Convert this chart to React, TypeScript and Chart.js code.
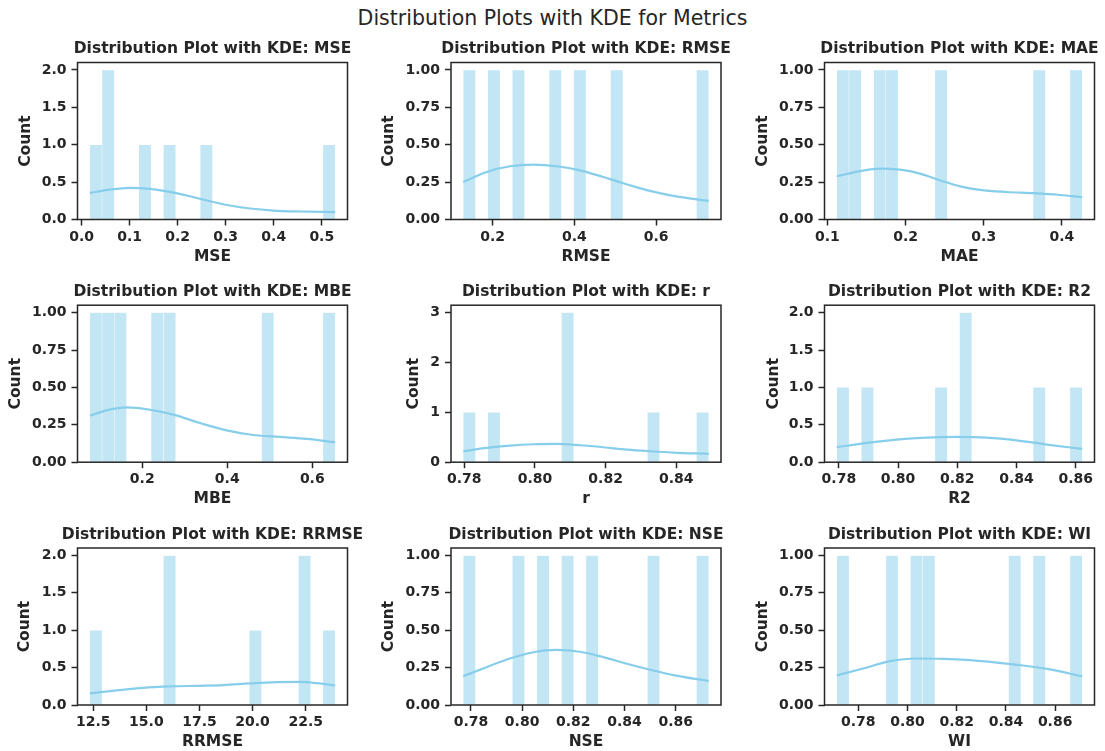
import React, { useEffect, useRef } from 'react';
import { Chart, registerables } from 'chart.js';

Chart.register(...registerables);

const FONT = "'DejaVu Sans', sans-serif";
const TEXT = '#262626';
const BAR_FILL = 'rgba(135, 206, 235, 0.5)';
const KDE_COLOR = '#87CEEB';

// ---------------- data ----------------
const MSE_RANGE = [0.017, 0.528];
const MSE_COUNTS = [1, 2, 0, 0, 1, 0, 1, 0, 0, 1, 0, 0, 0, 0, 0, 0, 0, 0, 0, 1];
const MSE_KDE_X = [0.017, 0.059, 0.1006, 0.142, 0.184, 0.2256, 0.267, 0.309, 0.3506, 0.399, 0.455, 0.528];
const MSE_KDE_Y = [0.356, 0.4, 0.422, 0.409, 0.369, 0.311, 0.244, 0.187, 0.147, 0.12, 0.107, 0.098];
const MSE_X_TICKS = ['0.0', '0.1', '0.2', '0.3', '0.4', '0.5'];
const MSE_Y_TICKS = ['0.0', '0.5', '1.0', '1.5', '2.0'];

const RMSE_RANGE = [0.128, 0.729];
const RMSE_COUNTS = [1, 0, 1, 0, 1, 0, 0, 1, 0, 1, 0, 0, 1, 0, 0, 0, 0, 0, 0, 1];
const RMSE_KDE_X = [0.128, 0.1853, 0.2424, 0.2995, 0.3567, 0.4137, 0.4708, 0.528, 0.585, 0.642, 0.729];
const RMSE_KDE_Y = [0.251, 0.318, 0.356, 0.367, 0.356, 0.329, 0.284, 0.236, 0.191, 0.158, 0.124];
const RMSE_X_TICKS = ['0.2', '0.4', '0.6'];
const RMSE_Y_TICKS = ['0.00', '0.25', '0.50', '0.75', '1.00'];

const MAE_RANGE = [0.112, 0.426];
const MAE_COUNTS = [1, 1, 0, 1, 1, 0, 0, 0, 1, 0, 0, 0, 0, 0, 0, 0, 1, 0, 0, 1];
const MAE_KDE_X = [0.112, 0.1418, 0.1674, 0.193, 0.2185, 0.2441, 0.2697, 0.2953, 0.3294, 0.3634, 0.3976, 0.426];
const MAE_KDE_Y = [0.289, 0.324, 0.34, 0.333, 0.307, 0.262, 0.222, 0.198, 0.184, 0.176, 0.164, 0.149];
const MAE_X_TICKS = ['0.1', '0.2', '0.3', '0.4'];
const MAE_Y_TICKS = ['0.00', '0.25', '0.50', '0.75', '1.00'];

const MBE_RANGE = [0.0765, 0.654];
const MBE_COUNTS = [1, 1, 1, 0, 0, 1, 1, 0, 0, 0, 0, 0, 0, 0, 1, 0, 0, 0, 0, 1];
const MBE_KDE_X = [0.0765, 0.12, 0.163, 0.218, 0.273, 0.336, 0.3986, 0.461, 0.524, 0.587, 0.654];
const MBE_KDE_Y = [0.311, 0.35, 0.367, 0.351, 0.318, 0.262, 0.213, 0.182, 0.169, 0.156, 0.133];
const MBE_X_TICKS = ['0.2', '0.4', '0.6'];
const MBE_Y_TICKS = ['0.00', '0.25', '0.50', '0.75', '1.00'];

const R_RANGE = [0.7797, 0.8492];
const R_COUNTS = [1, 0, 1, 0, 0, 0, 0, 0, 3, 0, 0, 0, 0, 0, 0, 1, 0, 0, 0, 1];
const R_KDE_X = [0.7797, 0.7863, 0.7929, 0.7995, 0.8062, 0.8128, 0.8194, 0.826, 0.8326, 0.8392, 0.8492];
const R_KDE_Y = [0.22, 0.287, 0.333, 0.36, 0.367, 0.34, 0.3, 0.253, 0.22, 0.193, 0.167];
const R_X_TICKS = ['0.78', '0.80', '0.82', '0.84'];
const R_Y_TICKS = ['0', '1', '2', '3'];

const R2_RANGE = [0.7793, 0.8622];
const R2_COUNTS = [1, 0, 1, 0, 0, 0, 0, 0, 1, 0, 2, 0, 0, 0, 0, 0, 1, 0, 0, 1];
const R2_KDE_X = [0.7793, 0.7894, 0.7995, 0.8096, 0.8198, 0.8299, 0.84, 0.8502, 0.8622];
const R2_KDE_Y = [0.2, 0.258, 0.302, 0.329, 0.338, 0.329, 0.293, 0.236, 0.178];
const R2_X_TICKS = ['0.78', '0.80', '0.82', '0.84', '0.86'];
const R2_Y_TICKS = ['0.0', '0.5', '1.0', '1.5', '2.0'];

const RRMSE_RANGE = [12.335, 23.89];
const RRMSE_COUNTS = [1, 0, 0, 0, 0, 0, 2, 0, 0, 0, 0, 0, 0, 1, 0, 0, 0, 2, 0, 1];
const RRMSE_KDE_X = [12.335, 13.6, 14.85, 16.11, 17.37, 18.62, 19.88, 21.13, 22.23, 23.02, 23.89];
const RRMSE_KDE_Y = [0.155, 0.195, 0.23, 0.248, 0.257, 0.266, 0.288, 0.305, 0.31, 0.292, 0.261];
const RRMSE_X_TICKS = ['12.5', '15.0', '17.5', '20.0', '22.5'];
const RRMSE_Y_TICKS = ['0.0', '0.5', '1.0', '1.5', '2.0'];

const NSE_RANGE = [0.777, 0.8729];
const NSE_COUNTS = [1, 0, 0, 0, 1, 0, 1, 0, 1, 0, 1, 0, 0, 0, 0, 1, 0, 0, 0, 1];
const NSE_KDE_X = [0.777, 0.7861, 0.7952, 0.8044, 0.8135, 0.8226, 0.8317, 0.8409, 0.85, 0.8591, 0.8729];
const NSE_KDE_Y = [0.193, 0.253, 0.311, 0.353, 0.369, 0.356, 0.32, 0.276, 0.236, 0.2, 0.16];
const NSE_X_TICKS = ['0.78', '0.80', '0.82', '0.84', '0.86'];
const NSE_Y_TICKS = ['0.00', '0.25', '0.50', '0.75', '1.00'];

const WI_RANGE = [0.7713, 0.871];
const WI_COUNTS = [1, 0, 0, 0, 1, 0, 1, 1, 0, 0, 0, 0, 0, 0, 1, 0, 1, 0, 0, 1];
const WI_KDE_X = [0.7713, 0.782, 0.7929, 0.8037, 0.8145, 0.8254, 0.8362, 0.847, 0.8579, 0.871];
const WI_KDE_Y = [0.198, 0.244, 0.293, 0.311, 0.309, 0.3, 0.284, 0.264, 0.238, 0.191];
const WI_X_TICKS = ['0.78', '0.80', '0.82', '0.84', '0.86'];
const WI_Y_TICKS = ['0.00', '0.25', '0.50', '0.75', '1.00'];

const SUPTITLE = 'Distribution Plots with KDE for Metrics';
const TITLE_PREFIX = 'Distribution Plot with KDE: ';
const Y_LABEL = 'Count';

type Metric = {
  name: string;
  range: number[];
  counts: number[];
  kdeX: number[];
  kdeY: number[];
  xTicks: string[];
  yTicks: string[];
};

const METRICS: Metric[] = [
  { name: 'MSE', range: MSE_RANGE, counts: MSE_COUNTS, kdeX: MSE_KDE_X, kdeY: MSE_KDE_Y, xTicks: MSE_X_TICKS, yTicks: MSE_Y_TICKS },
  { name: 'RMSE', range: RMSE_RANGE, counts: RMSE_COUNTS, kdeX: RMSE_KDE_X, kdeY: RMSE_KDE_Y, xTicks: RMSE_X_TICKS, yTicks: RMSE_Y_TICKS },
  { name: 'MAE', range: MAE_RANGE, counts: MAE_COUNTS, kdeX: MAE_KDE_X, kdeY: MAE_KDE_Y, xTicks: MAE_X_TICKS, yTicks: MAE_Y_TICKS },
  { name: 'MBE', range: MBE_RANGE, counts: MBE_COUNTS, kdeX: MBE_KDE_X, kdeY: MBE_KDE_Y, xTicks: MBE_X_TICKS, yTicks: MBE_Y_TICKS },
  { name: 'r', range: R_RANGE, counts: R_COUNTS, kdeX: R_KDE_X, kdeY: R_KDE_Y, xTicks: R_X_TICKS, yTicks: R_Y_TICKS },
  { name: 'R2', range: R2_RANGE, counts: R2_COUNTS, kdeX: R2_KDE_X, kdeY: R2_KDE_Y, xTicks: R2_X_TICKS, yTicks: R2_Y_TICKS },
  { name: 'RRMSE', range: RRMSE_RANGE, counts: RRMSE_COUNTS, kdeX: RRMSE_KDE_X, kdeY: RRMSE_KDE_Y, xTicks: RRMSE_X_TICKS, yTicks: RRMSE_Y_TICKS },
  { name: 'NSE', range: NSE_RANGE, counts: NSE_COUNTS, kdeX: NSE_KDE_X, kdeY: NSE_KDE_Y, xTicks: NSE_X_TICKS, yTicks: NSE_Y_TICKS },
  { name: 'WI', range: WI_RANGE, counts: WI_COUNTS, kdeX: WI_KDE_X, kdeY: WI_KDE_Y, xTicks: WI_X_TICKS, yTicks: WI_Y_TICKS },
];

// ---------------- layout ----------------
const COL_LEFT = [77.5, 451, 824.5];
const ROW_TOP = [62.5, 305.2, 548];
const AX_W = 270;
const AX_H = 157;
const YLABEL_OFFSET = [51, 61, 61, 61, 36, 50, 51.5, 61, 61];
const TITLE_SIZE = 15.5;
const TICK_SIZE = 14;
const LABEL_SIZE = 15.5;
const LH = 1.2;
const TITLE_GAP = 3.9;
const TITLE_BOX = 24.5;
const X_AXIS_H = 46.3;

const framePlugin = {
  id: 'frame',
  afterDatasetsDraw(chart: any) {
    const { ctx, chartArea } = chart;
    ctx.save();
    ctx.strokeStyle = TEXT;
    ctx.lineWidth = 1.5;
    ctx.strokeRect(chartArea.left, chartArea.top, chartArea.right - chartArea.left, chartArea.bottom - chartArea.top);
    ctx.restore();
  },
};

function Panel({ metric, index }: { metric: Metric; index: number }) {
  const ref = useRef<HTMLCanvasElement | null>(null);
  const row = Math.floor(index / 3);
  const col = index % 3;
  const L = COL_LEFT[col];
  const T = ROW_TOP[row];
  const wyRaw = YLABEL_OFFSET[index] + (LABEL_SIZE * LH) / 2;
  const cLeft = Math.floor(L - wyRaw);
  const wy = L - cLeft;
  const cTop = Math.floor(T - TITLE_BOX);
  const ht = T - cTop;
  // symmetric canvas around the axes so that the full-width title is centred on the axes
  const width = Math.ceil(wy + AX_W + wy);
  const wRight = width - wy - AX_W;
  const height = Math.ceil(ht + AX_H + X_AXIS_H);
  const padB = height - ht - AX_H - X_AXIS_H;
  const titleShift = (wRight - wy) / 2;

  useEffect(() => {
    const canvas = ref.current;
    if (!canvas) return;
    const [lo, hi] = metric.range;
    const n = metric.counts.length;
    const bw = (hi - lo) / n;
    const bars = metric.counts.map((c, i) => ({ x: lo + (i + 0.5) * bw, y: c }));
    const kde = metric.kdeX.map((x, i) => ({ x, y: metric.kdeY[i] }));
    const span = hi - lo;
    const yMax = Math.max(...metric.counts) * 1.05;
    const xTickVals = metric.xTicks.map((s) => parseFloat(s));
    const yTickVals = metric.yTicks.map((s) => parseFloat(s));
    const titleLH = TITLE_SIZE * LH;

    const chart = new Chart(canvas, {
      type: 'bar',
      data: {
        datasets: [
          {
            type: 'line',
            data: kde,
            borderColor: KDE_COLOR,
            borderWidth: 2.2,
            pointRadius: 0,
            cubicInterpolationMode: 'monotone',
            fill: false,
            order: 0,
          } as any,
          {
            type: 'bar',
            data: bars,
            backgroundColor: BAR_FILL,
            borderColor: '#ffffff',
            borderWidth: 0.5,
            barPercentage: 1,
            categoryPercentage: 1,
            order: 1,
          } as any,
        ],
      },
      options: {
        animation: false,
        responsive: false,
        maintainAspectRatio: false,
        devicePixelRatio: 1,
        layout: { padding: { left: 0, top: 0, right: 0, bottom: padB } },
        plugins: {
          legend: { display: false },
          tooltip: { enabled: false },
          title: {
            display: true,
            text: TITLE_PREFIX + metric.name,
            color: TEXT,
            fullSize: true,
            font: { family: FONT, size: TITLE_SIZE, weight: 'bold', lineHeight: LH },
            padding: { top: ht - titleLH - TITLE_GAP, bottom: TITLE_GAP, left: 0, right: 0 },
          },
        },
        scales: {
          x: {
            type: 'linear',
            position: 'bottom',
            offset: false,
            min: lo - 0.05 * span,
            max: hi + 0.05 * span,
            afterFit(scale: any) {
              scale.height = X_AXIS_H;
            },
            afterBuildTicks(scale: any) {
              scale.ticks = xTickVals.map((v) => ({ value: v }));
            },
            grid: {
              display: true,
              offset: false,
              drawOnChartArea: false,
              drawTicks: true,
              tickLength: 6,
              tickWidth: 1.5,
              tickColor: TEXT,
            },
            border: { display: false },
            ticks: {
              autoSkip: false,
              maxRotation: 0,
              minRotation: 0,
              padding: 3,
              color: TEXT,
              font: { family: FONT, size: TICK_SIZE, weight: 'bold', lineHeight: LH },
              callback: (_v: any, i: number) => metric.xTicks[i],
            },
            title: {
              display: true,
              text: metric.name,
              color: TEXT,
              padding: 0,
              font: { family: FONT, size: LABEL_SIZE, weight: 'bold', lineHeight: LH },
            },
          },
          y: {
            type: 'linear',
            position: 'left',
            min: 0,
            max: yMax,
            afterFit(scale: any) {
              scale.width = wy;
            },
            afterBuildTicks(scale: any) {
              scale.ticks = yTickVals.map((v) => ({ value: v }));
            },
            grid: {
              display: true,
              drawOnChartArea: false,
              drawTicks: true,
              tickLength: 6,
              tickWidth: 1.5,
              tickColor: TEXT,
            },
            border: { display: false },
            ticks: {
              autoSkip: false,
              padding: 5,
              color: TEXT,
              font: { family: FONT, size: TICK_SIZE, weight: 'bold', lineHeight: LH },
              callback: (_v: any, i: number) => metric.yTicks[i],
            },
            title: {
              display: true,
              text: Y_LABEL,
              color: TEXT,
              padding: 0,
              font: { family: FONT, size: LABEL_SIZE, weight: 'bold', lineHeight: LH },
            },
          },
          // empty spacer on the right, keeps the canvas symmetric around the axes
          spacer: {
            type: 'linear',
            position: 'right',
            display: true,
            afterFit(scale: any) {
              scale.width = wRight;
            },
            grid: { display: false, drawTicks: false },
            border: { display: false },
            ticks: { display: false },
            title: { display: false },
          },
        },
      } as any,
      plugins: [framePlugin],
    });
    return () => chart.destroy();
  }, [metric, index]);

  return (
    <canvas
      ref={ref}
      width={width}
      height={height}
      data-shift={titleShift}
      style={{ position: 'absolute', left: cLeft, top: cTop, width, height, display: 'block' }}
    />
  );
}

export default function App() {
  return (
    <div
      style={{
        position: 'absolute',
        left: 0,
        top: 0,
        width: 1105,
        height: 751,
        background: '#ffffff',
        overflow: 'hidden',
      }}
    >
      <div
        style={{
          position: 'absolute',
          left: 0,
          top: 6,
          width: 1105,
          textAlign: 'center',
          fontFamily: FONT,
          fontSize: 20.5,
          lineHeight: '24px',
          color: TEXT,
        }}
      >
        {SUPTITLE}
      </div>
      {METRICS.map((m, i) => (
        <Panel key={m.name} metric={m} index={i} />
      ))}
    </div>
  );
}
